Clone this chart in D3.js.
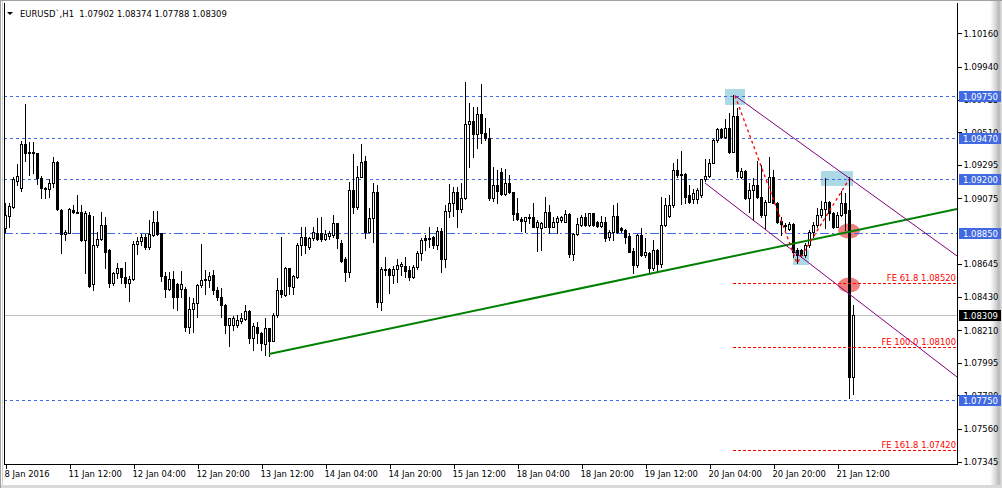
<!DOCTYPE html>
<html><head><meta charset="utf-8">
<script src="https://cdn.jsdelivr.net/npm/d3@7"></script>
<style>
html,body{margin:0;padding:0;background:#fff;overflow:hidden}
svg{display:block}
text{font-family:"DejaVu Sans Condensed","DejaVu Sans","Liberation Sans",sans-serif;font-size:9.4px}
</style></head>
<body>
<svg id="c" width="1002" height="488"></svg>
<script>
// ---------- DATA ----------
const symbolTitle = "EURUSD`,H1  1.07902 1.08374 1.07788 1.08309";
const timeLabels = ["8 Jan 2016","11 Jan 12:00","12 Jan 04:00","12 Jan 20:00","13 Jan 12:00","14 Jan 04:00","14 Jan 20:00","15 Jan 12:00","18 Jan 04:00","18 Jan 20:00","19 Jan 12:00","20 Jan 04:00","20 Jan 20:00","21 Jan 12:00"];
const timeLabelBars = [0,16,32,48,64,80,96,112,128,144,160,176,192,208];
const priceTicks = [1.10160,1.09940,1.09725,1.09510,1.09295,1.09075,1.08645,1.08430,1.08210,1.07995,1.07780,1.07560,1.07345];

const open = [1.08881,1.08962,1.09020,1.09190,1.09146,1.09433,1.09383,1.09383,1.09376,1.09208,1.09146,1.09135,1.09175,1.09317,1.09000,1.08842,1.08851,1.09000,1.08989,1.08984,
1.08802,1.08967,1.08511,1.08767,1.08807,1.08901,1.08737,1.08518,1.08583,1.08616,1.08557,1.08518,1.08544,1.08776,1.08792,1.08824,1.08754,1.08835,1.08921,1.08846,
1.08562,1.08478,1.08544,1.08511,1.08478,1.08480,1.08233,1.08349,1.08386,1.08507,1.08540,1.08540,1.08570,1.08474,1.08426,1.08375,1.08242,1.08242,1.08246,1.08270,
1.08281,1.08332,1.08156,1.08229,1.08189,1.08119,1.08224,1.08141,1.08308,1.08474,1.08441,1.08616,1.08496,1.08557,1.08770,1.08820,1.08754,1.08813,1.08846,1.08846,
1.08807,1.08831,1.08835,1.08912,1.08780,1.08675,1.08590,1.09131,1.09017,1.09218,1.09321,1.08857,1.08944,1.09120,1.08393,1.08605,1.08610,1.08572,1.08610,1.08633,
1.08633,1.08605,1.08557,1.08627,1.08715,1.08817,1.08806,1.08820,1.08769,1.08863,1.08675,1.08995,1.09043,1.09115,1.09004,1.09076,1.09564,1.09584,1.09496,1.09630,
1.09503,1.09474,1.09080,1.09163,1.09247,1.09102,1.09174,1.09115,1.08977,1.08938,1.08929,1.08955,1.08955,1.08890,1.08883,1.08890,1.08984,1.08890,1.08923,1.08933,
1.08923,1.08971,1.08710,1.08842,1.08901,1.08955,1.08901,1.08977,1.08918,1.08896,1.08918,1.08820,1.08857,1.08962,1.08879,1.08868,1.08831,1.08730,1.08638,1.08835,
1.08704,1.08719,1.08620,1.08736,1.08642,1.08901,1.08962,1.09032,1.09262,1.09236,1.09236,1.09098,1.09069,1.09069,1.09097,1.09200,1.09225,1.09310,1.09459,1.09529,
1.09476,1.09540,1.09382,1.09616,1.09218,1.09257,1.09076,1.09130,1.09163,1.09082,1.08966,1.09054,1.09218,1.09047,1.08927,1.08903,1.08874,1.08907,1.08736,1.08736,
1.08703,1.08769,1.08857,1.08900,1.08966,1.09005,1.09054,1.08981,1.08889,1.08966,1.09043,1.08999,1.07902];
const high = [1.09043,1.09043,1.09214,1.09302,1.09455,1.09696,1.09449,1.09449,1.09376,1.09223,1.09153,1.09201,1.09350,1.09324,1.09004,1.08868,1.09011,1.09032,1.09098,1.09032,
1.08995,1.08989,1.08962,1.08857,1.08989,1.08956,1.08741,1.08594,1.08649,1.08621,1.08660,1.08562,1.08792,1.08824,1.08842,1.08842,1.08930,1.08995,1.08995,1.08851,
1.08594,1.08594,1.08599,1.08518,1.08599,1.08496,1.08430,1.08419,1.08511,1.08776,1.08605,1.08590,1.08605,1.08496,1.08489,1.08380,1.08290,1.08300,1.08310,1.08321,
1.08375,1.08343,1.08255,1.08266,1.08196,1.08292,1.08226,1.08321,1.08551,1.08824,1.08627,1.08621,1.08573,1.08781,1.08886,1.08886,1.08824,1.08890,1.08945,1.08956,
1.08868,1.08860,1.08966,1.08916,1.08802,1.08693,1.09185,1.09367,1.09288,1.09433,1.09354,1.09010,1.09174,1.09163,1.08627,1.08688,1.08616,1.08631,1.08677,1.08660,
1.08693,1.08631,1.08638,1.08732,1.08813,1.08835,1.08890,1.08831,1.08890,1.08879,1.09032,1.09170,1.09152,1.09148,1.09174,1.09838,1.09700,1.09678,1.09674,1.09827,
1.09601,1.09536,1.09279,1.09262,1.09273,1.09269,1.09227,1.09120,1.09076,1.08955,1.08955,1.08973,1.09047,1.08934,1.08923,1.09087,1.09032,1.08955,1.08960,1.08960,
1.08999,1.08977,1.08850,1.08944,1.08966,1.08977,1.08982,1.08982,1.08927,1.08962,1.08955,1.08868,1.09032,1.09043,1.08890,1.08872,1.08846,1.08747,1.08842,1.08879,
1.08813,1.08725,1.08802,1.08741,1.09087,1.09076,1.09098,1.09306,1.09332,1.09387,1.09240,1.09163,1.09137,1.09141,1.09205,1.09332,1.09332,1.09463,1.09540,1.09535,
1.09595,1.09634,1.09754,1.09667,1.09277,1.09262,1.09174,1.09207,1.09321,1.09295,1.09065,1.09349,1.09262,1.09054,1.08955,1.08911,1.08922,1.08911,1.08747,1.08741,
1.08780,1.08868,1.08922,1.09010,1.09058,1.09207,1.09060,1.08988,1.08988,1.09126,1.09108,1.09214,1.08374];
const low = [1.08857,1.08890,1.09011,1.09164,1.09127,1.09324,1.09230,1.09240,1.09170,1.09081,1.09076,1.09087,1.09153,1.09000,1.08715,1.08802,1.08846,1.08978,1.08978,1.08792,
1.08588,1.08496,1.08470,1.08759,1.08802,1.08621,1.08496,1.08507,1.08551,1.08518,1.08496,1.08404,1.08540,1.08711,1.08770,1.08741,1.08741,1.08831,1.08835,1.08535,
1.08430,1.08474,1.08354,1.08343,1.08430,1.08207,1.08190,1.08200,1.08299,1.08496,1.08448,1.08496,1.08448,1.08408,1.08299,1.08189,1.08102,1.08210,1.08233,1.08255,
1.08273,1.08124,1.08080,1.08124,1.08080,1.08047,1.08042,1.08135,1.08299,1.08426,1.08435,1.08448,1.08448,1.08551,1.08704,1.08719,1.08741,1.08802,1.08802,1.08798,
1.08802,1.08810,1.08824,1.08747,1.08660,1.08535,1.08557,1.08977,1.09004,1.09214,1.08813,1.08852,1.08791,1.08360,1.08342,1.08572,1.08456,1.08522,1.08528,1.08572,
1.08561,1.08540,1.08550,1.08609,1.08671,1.08737,1.08758,1.08747,1.08741,1.08594,1.08623,1.08955,1.08960,1.08890,1.08988,1.09071,1.09284,1.09350,1.09404,1.09437,
1.09459,1.09065,1.09061,1.09043,1.09098,1.09098,1.09109,1.08934,1.08934,1.08863,1.08852,1.08912,1.08885,1.08732,1.08737,1.08890,1.08846,1.08885,1.08846,1.08923,
1.08923,1.08688,1.08671,1.08833,1.08896,1.08896,1.08896,1.08896,1.08890,1.08890,1.08798,1.08802,1.08802,1.08850,1.08857,1.08780,1.08721,1.08583,1.08627,1.08697,
1.08693,1.08590,1.08605,1.08594,1.08627,1.08896,1.08955,1.09021,1.09214,1.09039,1.09043,1.09043,1.09043,1.09043,1.09086,1.09189,1.09218,1.09305,1.09448,1.09470,
1.09470,1.09371,1.09378,1.09218,1.09207,1.09071,1.08988,1.08933,1.09076,1.08955,1.08872,1.09049,1.09043,1.08911,1.08835,1.08868,1.08868,1.08692,1.08648,1.08692,
1.08692,1.08758,1.08824,1.08889,1.08955,1.08878,1.08933,1.08878,1.08885,1.08959,1.08867,1.07766,1.07788];
const close = [1.08965,1.09026,1.09201,1.09223,1.09433,1.09372,1.09372,1.09372,1.09208,1.09142,1.09138,1.09175,1.09317,1.09004,1.08842,1.08855,1.09006,1.08984,1.08982,1.08802,
1.08978,1.08502,1.08770,1.08809,1.08901,1.08726,1.08518,1.08583,1.08616,1.08557,1.08518,1.08544,1.08776,1.08796,1.08824,1.08754,1.08842,1.08921,1.08842,1.08562,
1.08478,1.08544,1.08426,1.08426,1.08513,1.08233,1.08349,1.08386,1.08507,1.08540,1.08546,1.08568,1.08470,1.08426,1.08375,1.08242,1.08288,1.08288,1.08277,1.08292,
1.08332,1.08156,1.08235,1.08189,1.08124,1.08224,1.08141,1.08308,1.08474,1.08446,1.08616,1.08500,1.08562,1.08770,1.08820,1.08770,1.08813,1.08855,1.08807,1.08807,
1.08842,1.08846,1.08912,1.08813,1.08666,1.08590,1.09131,1.09017,1.09218,1.09312,1.08857,1.08944,1.09115,1.08393,1.08610,1.08614,1.08572,1.08610,1.08638,1.08644,
1.08598,1.08561,1.08627,1.08715,1.08800,1.08802,1.08817,1.08769,1.08863,1.08675,1.08995,1.09043,1.09115,1.09004,1.09076,1.09564,1.09584,1.09496,1.09630,1.09503,
1.09474,1.09080,1.09163,1.09126,1.09104,1.09174,1.09115,1.08973,1.08938,1.08929,1.08951,1.08947,1.08890,1.08918,1.08916,1.08984,1.08890,1.08923,1.08944,1.08951,
1.08971,1.08710,1.08842,1.08905,1.08955,1.08901,1.08977,1.08901,1.08896,1.08918,1.08817,1.08857,1.08962,1.08857,1.08868,1.08824,1.08725,1.08638,1.08835,1.08704,
1.08725,1.08620,1.08736,1.08642,1.08901,1.09032,1.09032,1.09262,1.09229,1.09229,1.09087,1.09054,1.09108,1.09130,1.09200,1.09225,1.09310,1.09459,1.09529,1.09476,
1.09540,1.09382,1.09616,1.09257,1.09255,1.09076,1.09130,1.09163,1.09082,1.08966,1.09054,1.09218,1.09047,1.08922,1.08907,1.08896,1.08907,1.08725,1.08703,1.08703,
1.08769,1.08857,1.08900,1.08966,1.09005,1.09054,1.08981,1.08889,1.08966,1.09043,1.08981,1.07902,1.08309];

const levelPrices = [1.09750,1.09470,1.09200,1.08850,1.07750];
const levelDashDot = [false,false,false,true,false];
const currentPrice = 1.08309;

const feNames = ["FE 61.8","FE 100.0","FE 161.8"];
const feValues = [1.08520,1.08100,1.07420];
const feStartBar = 182;

const fibBars = [182.5,198,211];
const fibPrices = [1.09750,1.08650,1.09200];

const trendBars = [66,212];
const trendPrices = [1.08053,1.08861];
const chanUpperBars = [182.5,238];
const chanUpperPrices = [1.09750,1.08697];
const chanLowerBars = [175,238];
const chanLowerPrices = [1.09176,1.07902];

const rectBars = [[180,185],[204,212],[197,201]];
const rectPrices = [[1.09794,1.09689],[1.09255,1.09157],[1.08736,1.08637]];
const ellipseBars = [211,211];
const ellipsePrices = [1.08861,1.08506];

// ---------- SCALES ----------
const L = 4, R = 957, T = 3, B = 464;
const x = d3.scaleLinear().domain([0,238]).range([5,957]);
const y = d3.scaleLinear().domain([1.07345,1.10160]).range([461.7,33.3]);

const svg = d3.select("#c");
svg.append("rect").attr("x",0).attr("y",0).attr("width",1002).attr("height",488).attr("fill","#fff");
const defs = svg.append("defs");
const g1 = defs.append("linearGradient").attr("id","sh").attr("x1","0").attr("x2","1").attr("y1","0").attr("y2","0");
g1.append("stop").attr("offset","0").attr("stop-color","#ffffff");
g1.append("stop").attr("offset","0.45").attr("stop-color","#d8d8d8");
g1.append("stop").attr("offset","0.75").attr("stop-color","#b8b8b8");
g1.append("stop").attr("offset","1").attr("stop-color","#e4e4e4");
svg.append("rect").attr("x",990).attr("y",0).attr("width",12).attr("height",488).attr("fill","url(#sh)");
svg.append("rect").attr("x",0).attr("y",485).attr("width",1002).attr("height",3).attr("fill","#d9d9d9");
svg.append("rect").attr("x",0).attr("y",0).attr("width",1002).attr("height",1).attr("fill","#a0a0a0");
svg.append("rect").attr("x",0).attr("y",0).attr("width",1).attr("height",488).attr("fill","#a0a0a0");
svg.append("rect").attr("x",2).attr("y",1).attr("width",1).attr("height",484).attr("fill","#d0d0d0");

defs.append("clipPath").attr("id","clip").append("rect").attr("x",L).attr("y",T).attr("width",R-L).attr("height",B-T);
const plot = svg.append("g").attr("clip-path","url(#clip)");

// background objects
rectBars.forEach((b,i)=>{
  plot.append("rect").attr("x",x(b[0])).attr("width",x(b[1])-x(b[0]))
    .attr("y",y(rectPrices[i][0])).attr("height",y(rectPrices[i][1])-y(rectPrices[i][0]))
    .attr("fill","#add8e6");
});
ellipseBars.forEach((b,i)=>{
  plot.append("ellipse").attr("cx",x(b)).attr("cy",y(ellipsePrices[i])).attr("rx",11).attr("ry",7.5).attr("fill","#f08080");
});

// level lines
levelPrices.forEach((p,i)=>{
  plot.append("line").attr("x1",L).attr("x2",R).attr("y1",Math.round(y(p))+0.5).attr("y2",Math.round(y(p))+0.5)
    .attr("stroke","#4169e1").attr("stroke-width",1)
    .attr("stroke-dasharray",levelDashDot[i]?"9,3,2,3":"3,3");
});
plot.append("line").attr("x1",L).attr("x2",R).attr("y1",Math.round(y(currentPrice))+0.5).attr("y2",Math.round(y(currentPrice))+0.5)
  .attr("stroke","#c0c0c0").attr("stroke-width",1);

// candles
const candles = open.map((o,i)=>({i,o,h:high[i],l:low[i],c:close[i]}));
const cg = plot.append("g").attr("shape-rendering","crispEdges");
cg.selectAll("line.w").data(candles).join("line")
  .attr("x1",d=>x(d.i)+0.5).attr("x2",d=>x(d.i)+0.5)
  .attr("y1",d=>Math.round(y(d.h))).attr("y2",d=>Math.round(y(d.l))+1)
  .attr("stroke","#000");
cg.selectAll("rect.b").data(candles).join("rect")
  .attr("x",d=>x(d.i)-0.5).attr("width",2)
  .attr("y",d=>Math.round(y(Math.max(d.o,d.c)))+0.5)
  .attr("height",d=>Math.max(0,Math.round(y(Math.min(d.o,d.c)))-Math.round(y(Math.max(d.o,d.c)))))
  .attr("fill",d=>d.c>=d.o?"#fff":"#000").attr("stroke","#000");

function ray(bars,prices,toBar){
  const s=(prices[1]-prices[0])/(bars[1]-bars[0]);
  return [[x(bars[0]),y(prices[0])],[x(toBar),y(prices[0]+s*(toBar-bars[0]))]];
}
const ln = d3.line();
plot.append("path").attr("d",ln(ray(trendBars,trendPrices,238))).attr("stroke","#008000").attr("stroke-width",2).attr("fill","none");
plot.append("path").attr("d",ln(ray(chanUpperBars,chanUpperPrices,238))).attr("stroke","#800080").attr("stroke-width",1).attr("fill","none");
plot.append("path").attr("d",ln(ray(chanLowerBars,chanLowerPrices,238))).attr("stroke","#800080").attr("stroke-width",1).attr("fill","none");

// fib expansion
plot.append("path").attr("d",ln(fibBars.map((b,i)=>[x(b),y(fibPrices[i])])))
  .attr("stroke","#ff0000").attr("stroke-width",1.3).attr("stroke-dasharray","3,3").attr("fill","none");
feValues.forEach((p,i)=>{
  const yy=Math.round(y(p))+0.5;
  plot.append("line").attr("x1",x(feStartBar)).attr("x2",R).attr("y1",yy).attr("y2",yy)
    .attr("stroke","#ff0000").attr("stroke-dasharray","3,2").attr("shape-rendering","crispEdges");
  plot.append("text").attr("x",R-1).attr("y",yy-3).attr("text-anchor","end").attr("fill","#ff0000")
    .text(feNames[i]+" "+d3.format(".5f")(p));
});

// frame
svg.append("path").attr("d",`M${L+0.5},${T}V${B+0.5}H${R+0.5}V${T}`).attr("stroke","#000").attr("fill","none").attr("shape-rendering","crispEdges");

// price axis
const ya = d3.axisRight(y).tickValues(priceTicks).tickSize(4).tickFormat(d3.format(".5f"));
const yg = svg.append("g").attr("transform",`translate(${R+0.5},0)`).call(ya);
yg.select(".domain").remove();
yg.selectAll(".tick line").attr("stroke","#000").attr("shape-rendering","crispEdges");
yg.selectAll(".tick text").attr("x",6).attr("fill","#000").style("font-size","9.4px");

// time axis
const xa = d3.axisBottom(x).tickValues(timeLabelBars).tickSize(4).tickFormat((d,i)=>timeLabels[i]);
const xg = svg.append("g").attr("transform",`translate(0.5,${B+0.5})`).call(xa);
xg.select(".domain").remove();
xg.selectAll(".tick line").attr("stroke","#000").attr("shape-rendering","crispEdges");
xg.selectAll(".tick text").attr("text-anchor","start").attr("x",-1.5).attr("dy","0").attr("y",12.5).attr("fill","#000").style("font-size","9.4px");

// price boxes
function box(p,bg){
  const yy=Math.round(y(p));
  svg.append("rect").attr("x",959).attr("y",yy-5).attr("width",42).attr("height",11).attr("fill",bg);
  svg.append("text").attr("x",963).attr("y",yy+4).attr("fill","#fff").text(d3.format(".5f")(p));
}
levelPrices.forEach(p=>box(p,"#4169e1"));
box(currentPrice,"#000");

// title
svg.append("path").attr("d","M7,12H13L10,15Z").attr("fill","#000");
svg.append("text").attr("x",20).attr("y",16.5).attr("fill","#000").attr("xml:space","preserve").text(symbolTitle);
</script>
</body></html>
